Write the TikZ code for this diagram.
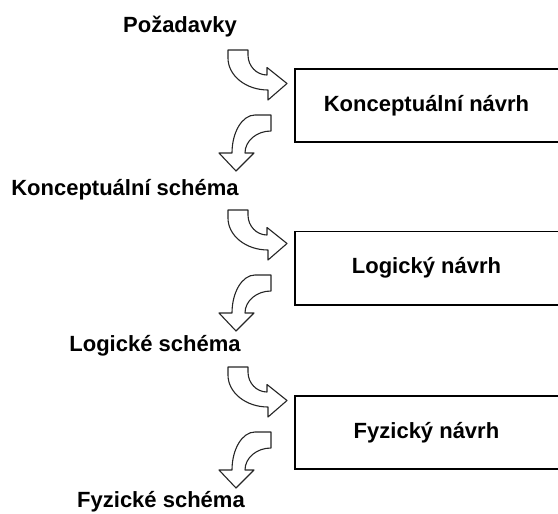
\documentclass[tikz,border=0pt]{standalone}
\usepackage{fontspec}
\setmainfont{Liberation Sans}
\usepackage{tikz}
\usetikzlibrary{positioning}
\tikzset{label/.style = {font=\bfseries\fontsize{22}{26}\selectfont, inner sep=0, anchor=base}}
\tikzset{stage/.style = {font=\bfseries\fontsize{22}{26}\selectfont, inner sep=0,
                         minimum width=263, minimum height=73}}
\tikzset{side/.style = {line width=1.6, black}}
\tikzset{turn/.style = {fill=white, draw=black!85, line width=1.1, line join=round}}

\begin{document}
\begin{tikzpicture}[x=1pt, y=1pt]
    \useasboundingbox (0, 0) rectangle (558, -514);

    \node [label] (req) at (180, -32) {Požadavky};
    \node [label] (cschema) at (125, -195) {Konceptuální schéma};
    \node [label] (lschema) at (155, -351) {Logické schéma};
    \node [label] (fschema) at (161, -507) {Fyzické schéma};

    \node [stage] (cdesign) at (426.5, -105.5) {Konceptuální návrh};
    \node [stage] (ldesign) at (426.5, -268) {Logický návrh};
    \node [stage] (fdesign) at (426.5, -432.5) {Fyzický návrh};

    \foreach \b in {cdesign, ldesign, fdesign} {
      \draw [side] (\b.north east) -- (\b.north west) -- (\b.south west) -- (\b.south east);
    }

    \foreach \y in {0,160,317} {
      \begin{scope}[shift={(0, -\y)}]
        \draw [turn] (228, -50) -- (248, -50) -- (248, -55)
          arc [start angle=180, end angle=270, x radius=19, y radius=20]
          -- (267, -67.5) -- (287, -83.5) -- (268, -100) -- (268, -90)
          arc [start angle=270, end angle=180, x radius=40, y radius=32] -- cycle;
        \draw [turn] (255, -115) -- (271, -115) -- (271, -131)
          arc [start angle=90, end angle=180, x radius=26, y radius=22]
          -- (254, -153) -- (236, -171) -- (219, -153) -- (232, -153)
          arc [start angle=180, end angle=90, x radius=23, y radius=38] -- cycle;
      \end{scope}
    }
  \end{tikzpicture}
\end{document}
